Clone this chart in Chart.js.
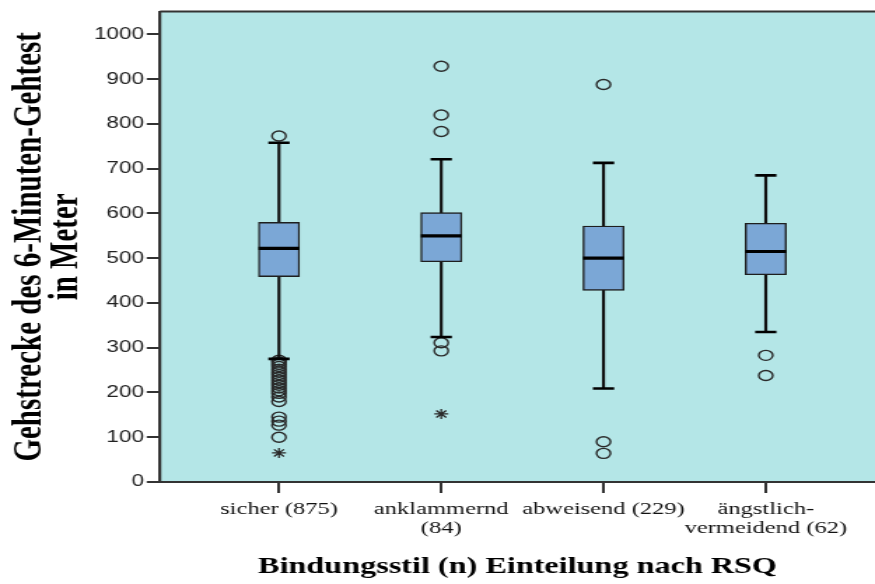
<!DOCTYPE html>
<html>
<head>
<meta charset="utf-8">
<script src="https://cdn.jsdelivr.net/npm/chart.js@4/dist/chart.umd.min.js"></script>
<style>
  html, body { margin: 0; padding: 0; background: #ffffff; }
  #c { display: block; }
</style>
</head>
<body>
<canvas id="c" width="625" height="584" style="width:875px;height:584px;"></canvas>
<script>
// ---- data ----
const categories = [["sicher (875)"], ["anklammernd", "(84)"], ["abweisend (229)"], ["ängstlich-", "vermeidend (62)"]];
const q1 = [459, 492, 428, 463];
const median = [522, 550, 500, 515];
const q3 = [580, 602, 572, 578];
const whiskerLow = [275, 324, 209, 335];
const whiskerHigh = [758, 721, 713, 685];
const outlierSicher = [773, 272, 268, 263, 258, 252, 246, 240, 234, 228, 222, 216, 210, 204, 198, 190, 180, 145, 136, 127, 100];
const outlierAnklammernd = [929, 820, 783, 311, 293];
const outlierAbweisend = [888, 90, 64];
const outlierAengstlich = [283, 238];
const extremeSicher = [65];
const extremeAnklammernd = [152];
const yTicks = [0, 100, 200, 300, 400, 500, 600, 700, 800, 900, 1000];
const xAxisTitle = "Bindungsstil (n) Einteilung nach RSQ";
const yAxisTitle = ["Gehstrecke des 6-Minuten-Gehtest", "in Meter"];

// ---- build library datasets from the arrays ----
const pos = categories.map((c, i) => i + 1);
const outlierLists = [outlierSicher, outlierAnklammernd, outlierAbweisend, outlierAengstlich];
const extremeLists = [extremeSicher, extremeAnklammernd, [], []];

const boxData = pos.map((x, i) => ({ x: x, y: [q1[i], q3[i]] }));
const whiskerData = pos.map((x, i) => ({ x: x, y: [whiskerLow[i], whiskerHigh[i]] }));
const capData = [];
pos.forEach((x, i) => { capData.push({ x: x, y: whiskerLow[i] }); capData.push({ x: x, y: whiskerHigh[i] }); });
const medianData = pos.map((x, i) => ({ x: x, y: median[i] }));
const outlierData = [];
outlierLists.forEach((list, i) => list.forEach(v => outlierData.push({ x: pos[i], y: v })));
const extremeData = [];
extremeLists.forEach((list, i) => list.forEach(v => extremeData.push({ x: pos[i], y: v })));

const plotFrame = {
  id: 'plotFrame',
  beforeDraw(chart) {
    const { ctx, chartArea: a } = chart;
    ctx.save();
    ctx.fillStyle = '#b4e6e7';
    ctx.fillRect(a.left, a.top, a.right - a.left, a.bottom - a.top);
    ctx.restore();
  },
  afterDraw(chart) {
    const { ctx, chartArea: a } = chart;
    ctx.save();
    ctx.strokeStyle = '#333333';
    ctx.lineWidth = 2;
    ctx.beginPath();
    ctx.moveTo(a.left, a.top);
    ctx.lineTo(a.right, a.top);
    ctx.stroke();
    ctx.restore();
  }
};

new Chart(document.getElementById('c'), {
  type: 'bar',
  data: {
    datasets: [
      {
        type: 'scatter', data: medianData, pointStyle: 'line', pointRadius: 14.6,
        borderColor: '#000000', borderWidth: 3.2, order: 0
      },
      {
        type: 'bar', data: boxData, grouped: false, barThickness: 29.3,
        backgroundColor: '#7ba7d6', borderColor: '#1e1e1e', borderWidth: 1.4,
        borderSkipped: false, order: 1
      },
      {
        type: 'scatter', data: capData, pointStyle: 'line', pointRadius: 7.6,
        borderColor: '#000000', borderWidth: 2.6, order: 2
      },
      {
        type: 'bar', data: whiskerData, grouped: false, barThickness: 1.5,
        backgroundColor: '#111111', borderWidth: 0, order: 3
      },
      {
        type: 'scatter', data: outlierData, pointStyle: 'circle', pointRadius: 5,
        backgroundColor: 'rgba(0,0,0,0)', borderColor: '#2a2a2a', borderWidth: 1.4, order: 4
      },
      {
        type: 'scatter', data: extremeData, pointStyle: 'star', pointRadius: 5,
        backgroundColor: 'rgba(0,0,0,0)', borderColor: '#2a2a2a', borderWidth: 1.3, order: 5
      }
    ]
  },
  options: {
    responsive: false,
    devicePixelRatio: 1,
    animation: false,
    events: [],
    layout: { autoPadding: false, padding: { left: 0, right: 0, top: 10, bottom: 0 } },
    plugins: { legend: { display: false }, tooltip: { enabled: false } },
    scales: {
      x: {
        type: 'linear',
        min: 0.267, max: 4.673,
        offset: false,
        grid: { drawOnChartArea: false, drawTicks: true, tickLength: 11, color: '#333333', lineWidth: 2, offset: false },
        border: { display: true, color: '#333333', width: 2 },
        afterBuildTicks: (scale) => { scale.ticks = pos.map(v => ({ value: v })); },
        afterFit: (scale) => { scale.height = 102; },
        ticks: {
          autoSkip: false, maxRotation: 0, padding: 7,
          color: '#111111',
          font: { family: "'Liberation Serif', 'Times New Roman', serif", size: 17.5, lineHeight: '19px' },
          callback: (value) => { const i = Math.round(value) - 1; return categories[i] || ''; }
        },
        title: {
          display: true, text: xAxisTitle, color: '#000000',
          font: { family: "'Liberation Serif', 'Times New Roman', serif", size: 23, weight: 'bold' },
          padding: { top: 0, bottom: 3 }
        }
      },
      y: {
        type: 'linear',
        min: 0, max: 1051,
        grid: { drawOnChartArea: false, drawTicks: true, tickLength: 9.5, color: '#333333', lineWidth: 2 },
        border: { display: true, color: '#333333', width: 2.2 },
        afterBuildTicks: (scale) => { scale.ticks = yTicks.map(v => ({ value: v })); },
        afterFit: (scale) => { scale.width = 114.3; },
        ticks: {
          padding: 2,
          color: '#222222',
          font: { family: "'Liberation Sans', Arial, sans-serif", size: 16 },
          callback: (value) => String(value)
        },
        title: {
          display: true, text: yAxisTitle, color: '#000000',
          font: { family: "'Liberation Serif', 'Times New Roman', serif", size: 29, weight: 'bold', lineHeight: '26px' },
          padding: { top: 9, bottom: 0 }
        }
      }
    }
  },
  plugins: [plotFrame]
});
</script>
</body>
</html>
